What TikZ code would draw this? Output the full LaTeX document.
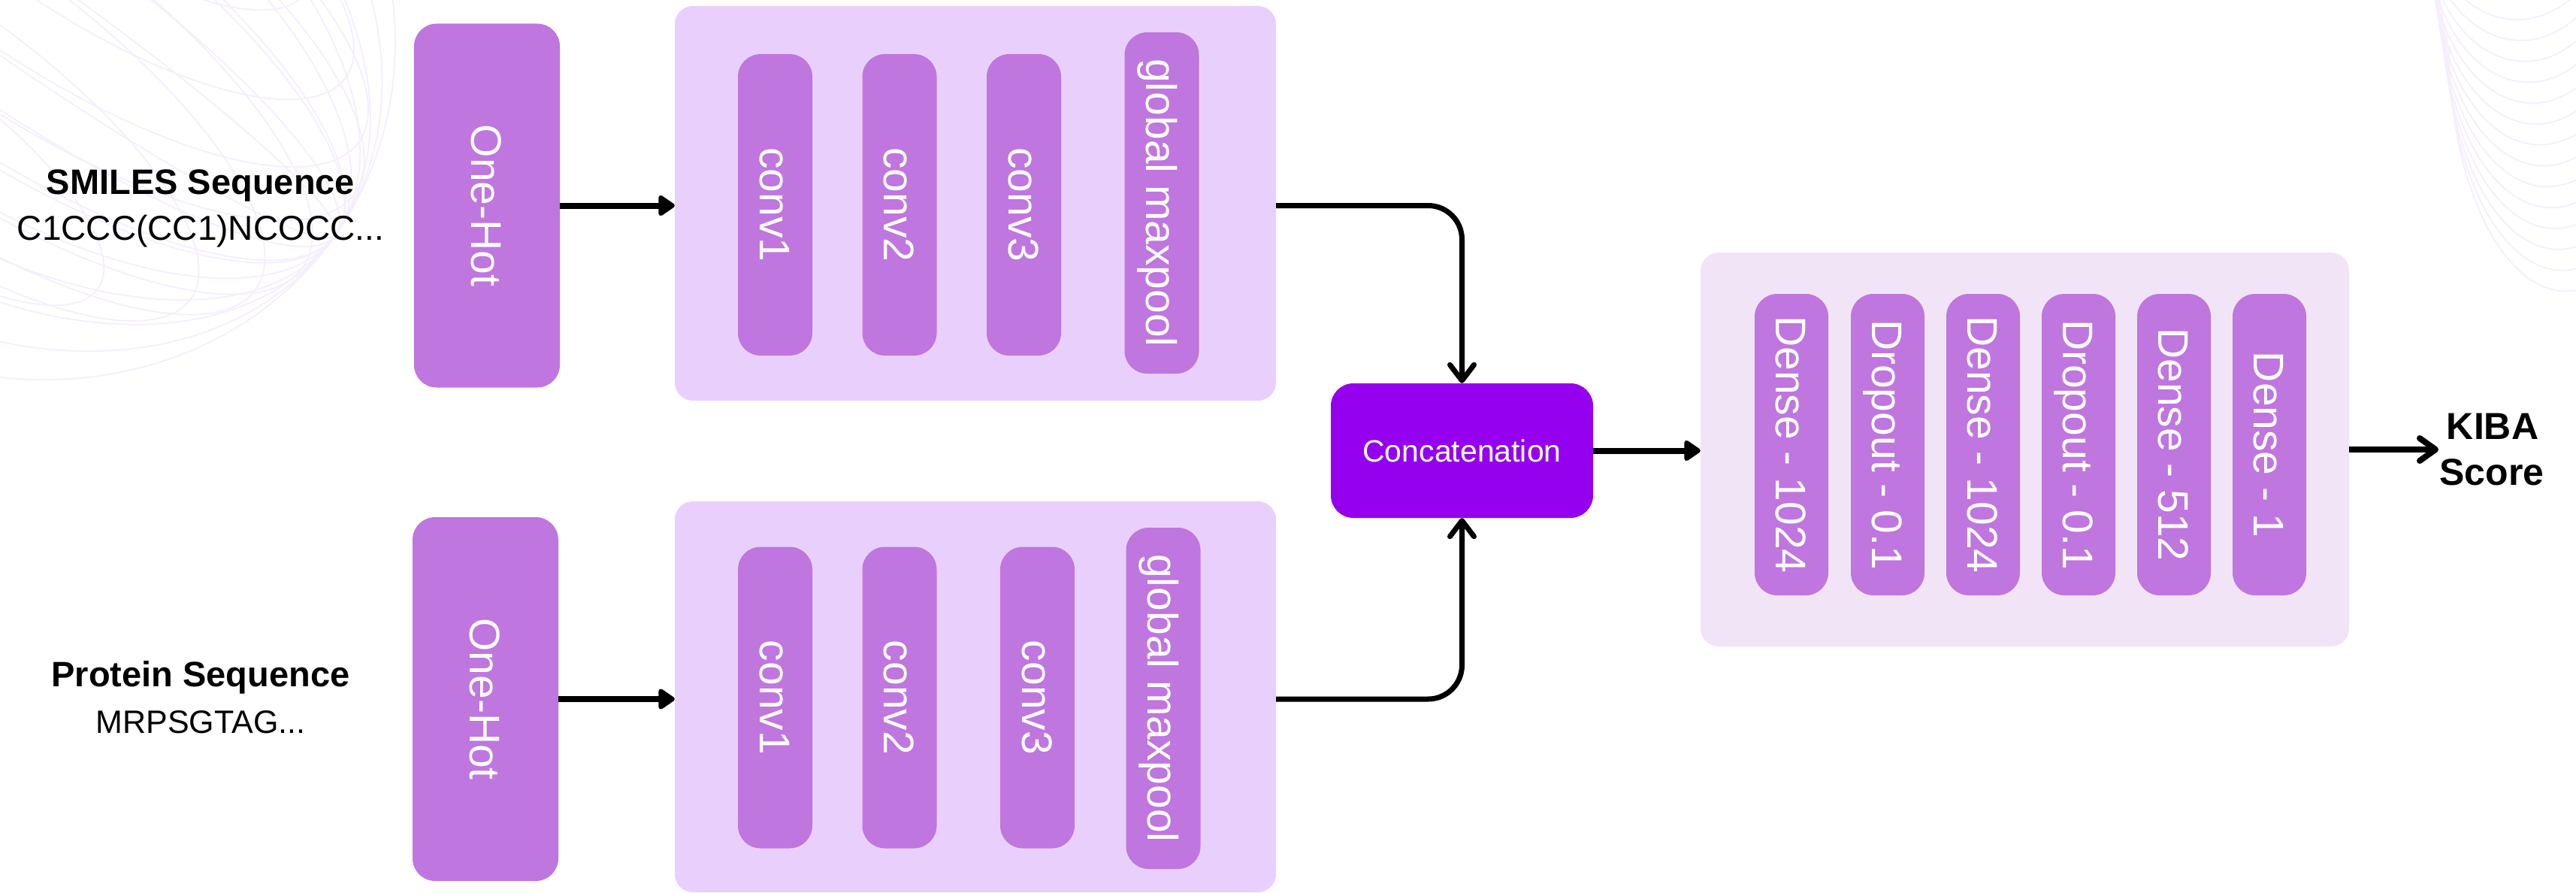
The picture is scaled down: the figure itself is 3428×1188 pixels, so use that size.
\documentclass[tikz,border=0pt]{standalone}
\usepackage{fontspec}
\setmainfont{Liberation Sans}
\usetikzlibrary{arrows.meta}

\definecolor{layerfill}{HTML}{BF76DF}
\definecolor{panelfill}{HTML}{E9D0FC}
\definecolor{headfill}{HTML}{F1E4F7}
\definecolor{mergefill}{HTML}{9500EE}
\definecolor{wavecol}{HTML}{F5EEFC}

\tikzset{
  layer/.style={fill=layerfill, rounded corners=30pt, inner sep=0pt, minimum width=99pt},
  panel/.style={fill=panelfill, rounded corners=24pt, inner sep=0pt},
  headpanel/.style={fill=headfill, rounded corners=24pt, inner sep=0pt},
  ltext/.style={text=white, rotate=-90, inner sep=0pt, text height=41pt, text depth=0pt,
    font=\fontsize{57}{68}\selectfont},
  flow/.style={line width=8pt, -{Triangle[length=24pt,width=31pt,round]}},
  merge/.style={line width=7pt, rounded corners=45pt, -{Straight Barb[length=21pt,width=32pt,round]}},
  plainarrow/.style={line width=8pt, -{Straight Barb[length=21pt,width=30pt,round]}},
  seqhead/.style={anchor=base, inner sep=0pt, font=\fontsize{47}{56}\selectfont\bfseries},
  seqtext/.style={anchor=base, inner sep=0pt},
  wave/.style={draw=wavecol, line width=1.8pt},
}

\begin{document}
\begin{tikzpicture}[x=1pt, y=-1pt]
  % canvas
  \fill[white] (0,0) rectangle (3428,1188);
  \useasboundingbox (0,0) rectangle (3428,1188);

  % faint wireframe ornament, top left
  \begin{scope}
    \clip (0,0) rectangle (620,560);
    \foreach \k in {1,...,8} {
      \draw[wave, rotate around={-35:(0,0)}] (0,0) ellipse [x radius=545, y radius={545*\k/9}];
    }
    \foreach \t in {-0.8,-0.6,...,0.81} {
      \draw[wave, rotate around={55:(0,0)}]
        ({545*\t*0.55},0) ellipse [x radius={0.35*545*sqrt(1-\t*\t)}, y radius={545*sqrt(1-\t*\t)}];
    }
  \end{scope}

  % faint nested arcs, top right
  \begin{scope}
    \clip (3150,0) rectangle (3428,420);
    \foreach \i in {0,...,13} {
      \pgfmathsetmacro{\yb}{26+27.8*\i}
      \pgfmathsetmacro{\xb}{3350+5*\i}
      \pgfmathsetmacro{\ry}{170+12*\i}
      \pgfmathsetmacro{\rx}{130+2*\i}
      \draw[wave] (\xb,\yb-\ry) ++(-\rx,0)
        arc [start angle=180, end angle=0, x radius=\rx, y radius=\ry];
    }
  \end{scope}

  % input labels
  \node[seqhead] (smileshead) at (267,258) {SMILES Sequence};
  \node[seqtext, font=\fontsize{46}{55}\selectfont] (smilestext) at (267,319) {C1CCC(CC1)NCOCC...};
  \node[seqhead] (protheadl) at (267,913) {Protein Sequence};
  \node[seqtext, font=\fontsize{43}{52}\selectfont] (prottext) at (267,975) {MRPSGTAG...};

  % one-hot encoders
  \node[layer, minimum width=194pt, minimum height=484pt] (onehotA) at (648,273.5) {};
  \node[ltext] (onehotAt) at (onehotA.center) {One-Hot};
  \node[layer, minimum width=194pt, minimum height=484pt] (onehotB) at (646,930) {};
  \node[ltext] (onehotBt) at (onehotB.center) {One-Hot};

  % drug CNN block
  \node[panel, minimum width=800pt, minimum height=525pt] (cnnA) at (1298,270.5) {};
  \node[layer, minimum height=401pt] (convA1) at (1031.5,272.5) {};
  \node[layer, minimum height=401pt] (convA2) at (1197,272.5) {};
  \node[layer, minimum height=401pt] (convA3) at (1362.5,272.5) {};
  \node[layer, minimum height=454pt] (poolA) at (1546,270) {};
  \node[ltext] at (convA1.center) {conv1};
  \node[ltext] at (convA2.center) {conv2};
  \node[ltext] at (convA3.center) {conv3};
  \node[ltext] at (poolA.center) {global maxpool};

  % protein CNN block
  \node[panel, minimum width=800pt, minimum height=520pt] (cnnB) at (1298,927) {};
  \node[layer, minimum height=401pt] (convB1) at (1031.5,928) {};
  \node[layer, minimum height=401pt] (convB2) at (1197,928) {};
  \node[layer, minimum height=401pt] (convB3) at (1380.5,928) {};
  \node[layer, minimum height=454pt] (poolB) at (1548,929) {};
  \node[ltext] at (convB1.center) {conv1};
  \node[ltext] at (convB2.center) {conv2};
  \node[ltext] at (convB3.center) {conv3};
  \node[ltext] at (poolB.center) {global maxpool};

  % merge
  \node[fill=mergefill, rounded corners=30pt, minimum width=349pt, minimum height=179pt,
        inner sep=0pt, text=white, text height=30pt, text depth=0pt,
        font=\fontsize{41}{49}\selectfont] (concat) at (1945.5,599.5) {Concatenation};

  % dense head
  \node[headpanel, minimum width=863pt, minimum height=524pt] (head) at (2694.5,598) {};
  \foreach \n/\x/\t in {d1/2384/Dense - 1024, d2/2512/Dropout - 0.1, d3/2639/Dense - 1024,
                         d4/2766/Dropout - 0.1, d5/2893/Dense - 512, d6/3020/Dense - 1} {
    \node[layer, minimum width=98pt, minimum height=401pt] (\n) at (\x,591.5) {};
    \node[ltext] at (\n.center) {\t};
  }

  % output label
  \node[anchor=base, inner sep=0pt, font=\fontsize{50}{60}\selectfont\bfseries] (kiba) at (3317,584) {KIBA};
  \node[anchor=base, inner sep=0pt, font=\fontsize{50}{60}\selectfont\bfseries] (kibascore) at (3316,645) {Score};
  \coordinate (kibatip) at (3245,598);

  % connectors
  \draw[flow] (onehotA.east) -- (onehotA.east -| cnnA.west);
  \draw[flow] (onehotB.east) -- (onehotB.east -| cnnB.west);
  \draw[merge] (cnnA.east |- onehotA.east) -| (concat.north);
  \draw[merge] (cnnB.east |- onehotB.east) -| (concat.south);
  \draw[flow] (concat.east) -- (concat.east -| head.west);
  \draw[plainarrow] (head.east |- kibatip) -- (kibatip);
\end{tikzpicture}
\end{document}
